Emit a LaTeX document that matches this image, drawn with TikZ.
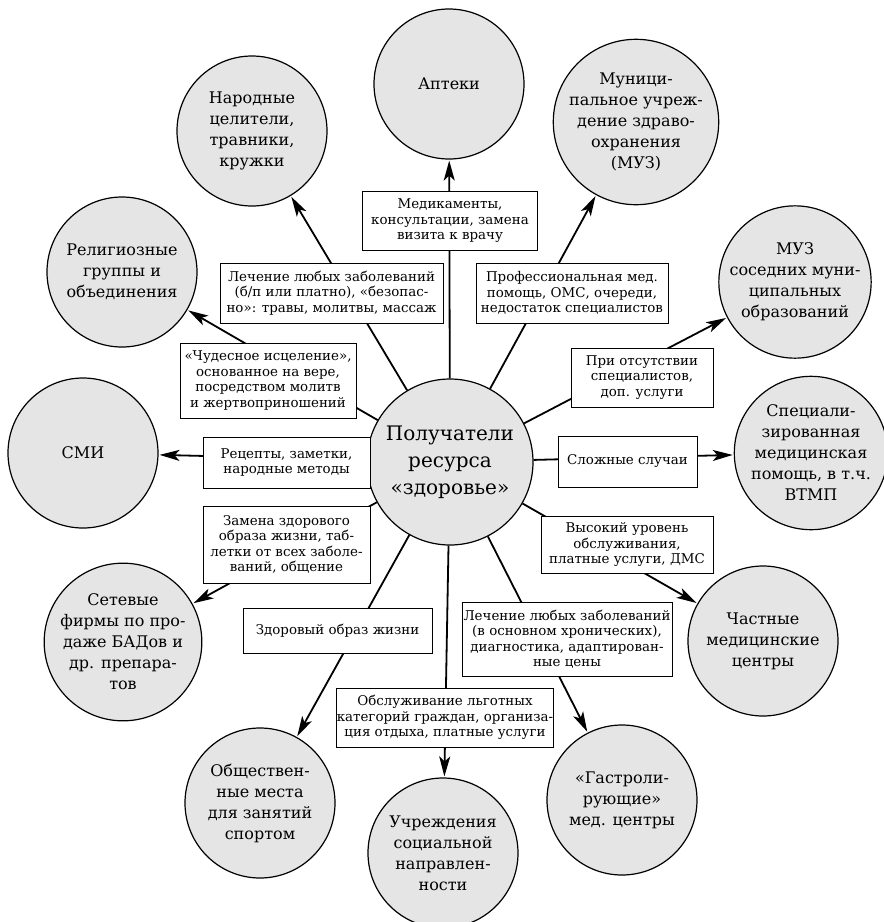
\documentclass[tikz,border=0pt]{standalone}
\usepackage{fontspec}
\setmainfont{DejaVu Serif}
\usetikzlibrary{arrows.meta}
\begin{document}
\begin{tikzpicture}[x=1pt,y=-1pt,
  hub/.style={circle, draw, line width=1.2pt, fill=black!10, minimum size=166pt, inner sep=0pt, align=center, font=\fontsize{20}{27}\selectfont},
  ent/.style={circle, draw, line width=1.2pt, fill=black!10, minimum size=150pt, inner sep=0pt, align=center, font=\fontsize{16}{21}\selectfont},
  lbl/.style={draw, line width=1pt, fill=white, align=center, inner sep=0pt, font=\fontsize{13.4}{15.5}\selectfont},
  link/.style={line width=1.8pt, -{Stealth[length=20pt,width=11pt,inset=5pt]}, shorten >=1pt},
]
\useasboundingbox (0,0) rectangle (884,922);

\node[hub] (c) at (450,462) {Получатели\\ресурса\\«здоровье»};

\node[ent] (apt) at (449,84) {Аптеки};
\node[ent] (muz) at (636,122) {Муници-\\пальное учреж-\\дение здраво-\\охранения\\(МУЗ)};
\node[ent] (sos) at (795,282) {МУЗ\\соседних муни-\\ципальных\\образований};
\node[ent] (spec) at (811,453) {Специали-\\зированная\\медицинская\\помощь, в т.ч.\\ВТМП};
\node[ent] (priv) at (763,641) {Частные\\медицинские\\центры};
\node[ent] (gast) at (622,800) {«Гастроли-\\рующие»\\мед. центры};
\node[ent] (soc) at (443,853) {Учреждения\\социальной\\направлен-\\ности};
\node[ent] (sport) at (260,803) {Обществен-\\ные места\\для занятий\\спортом};
\node[ent] (bad) at (123,642) {Сетевые\\фирмы по про-\\даже БАДов и\\др. препара-\\тов};
\node[ent] (smi) at (83,453) {СМИ};
\node[ent] (rel) at (122,272) {Религиозные\\группы и\\объединения};
\node[ent] (nar) at (252,131) {Народные\\целители,\\травники,\\кружки};

\foreach \t in {apt,muz,sos,spec,priv,gast,soc,sport,bad,smi,rel,nar}
  \draw[link] (c) -- (\t);

\node[lbl, minimum width=175pt, minimum height=59pt] (l1) at (450,221) {Медикаменты,\\консультации, замена\\визита к врачу};
\node[lbl, minimum width=223pt, minimum height=60pt] (l2) at (331.5,293) {Лечение любых заболеваний\\(б/п или платно), «безопас-\\но»: травы, молитвы, массаж};
\node[lbl, minimum width=192pt, minimum height=60pt] (l3) at (572,293) {Профессиональная мед.\\помощь, ОМС, очереди,\\недостаток специалистов};
\node[lbl, minimum width=142pt, minimum height=59pt] (l4) at (642,377.5) {При отсутствии\\специалистов,\\доп. услуги};
\node[lbl, minimum width=139pt, minimum height=51pt] (l5) at (627.5,461.5) {Сложные случаи};
\node[lbl, minimum width=172pt, minimum height=57pt] (l6) at (627,544.5) {Высокий уровень\\обслуживания,\\платные услуги, ДМС};
\node[lbl, minimum width=210pt, minimum height=74pt] (l7) at (567,639) {Лечение любых заболеваний\\(в основном хронических),\\диагностика, адаптирован-\\ные цены};
\node[lbl, minimum width=214pt, minimum height=59pt] (l8) at (445,717.5) {Обслуживание льготных\\категорий граждан, организа-\\ция отдыха, платные услуги};
\node[lbl, minimum width=189pt, minimum height=45pt] (l9) at (337.5,630.5) {Здоровый образ жизни};
\node[lbl, minimum width=167pt, minimum height=77pt] (l10) at (286.5,544.5) {Замена здорового\\образа жизни, таб-\\летки от всех заболе-\\ваний, общение};
\node[lbl, minimum width=167pt, minimum height=51pt] (l11) at (286.5,462.5) {Рецепты, заметки,\\народные методы};
\node[lbl, minimum width=176pt, minimum height=75pt] (l12) at (268,380.5) {«Чудесное исцеление»,\\основанное на вере,\\посредством молитв\\и жертвоприношений};
\end{tikzpicture}
\end{document}
